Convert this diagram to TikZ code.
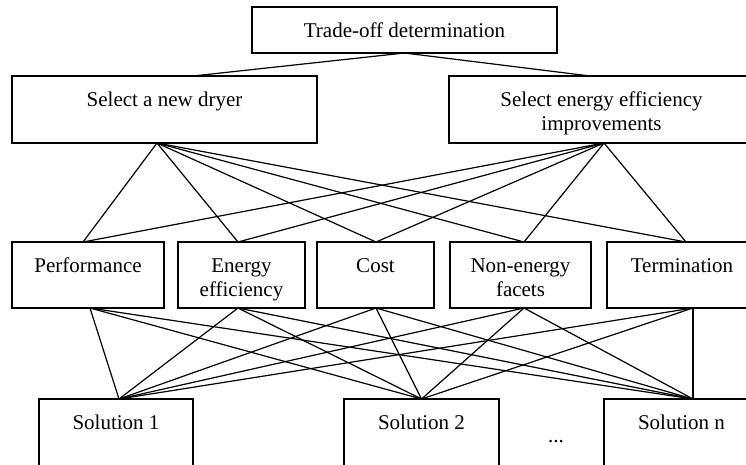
\documentclass[tikz,border=0pt]{standalone}
\usepackage{fontspec}
\setmainfont{Liberation Serif}
\newcommand{\bx}[3]{\parbox[c][#2][t]{#1}{\centering\vspace*{14pt}\strut#3}}
\newcommand{\bxc}[3]{\parbox[c][#2][c]{#1}{\centering #3}}
\begin{document}
\begin{tikzpicture}[x=1pt,y=-1pt,
  box/.style={draw,line width=1.2pt,inner sep=0pt,outer sep=0pt,font=\fontsize{21}{24}\selectfont},
  ln/.style={line width=1.2pt,line cap=round}]
\useasboundingbox (0,0) rectangle (746,464);
\clip (0,0) rectangle (746,464);
\node[box] (tb) at (404.5,30) {\bxc{305pt}{46pt}{Trade-off determination}};
\node[box] (ld) at (164.5,109.5) {\bx{305pt}{67pt}{Select a new dryer}};
\node[box] (rd) at (601.5,109.5) {\bx{305pt}{67pt}{Select energy efficiency\\improvements}};
\node[box] (perf) at (88,275) {\bx{152pt}{66pt}{Performance}};
\node[box] (eff) at (241.5,275) {\bx{127pt}{66pt}{Energy\\efficiency}};
\node[box] (cost) at (375.5,275) {\bx{117pt}{66pt}{Cost}};
\node[box] (non) at (520.5,275) {\bx{141pt}{66pt}{Non-energy\\facets}};
\node[box] (term) at (682,275) {\bx{150pt}{66pt}{Termination}};
\node[box] (s1) at (116,432.5) {\bx{154pt}{67pt}{Solution 1}};
\node[box] (s2) at (421.5,432.5) {\bx{155pt}{67pt}{Solution 2}};
\node[box] (sn) at (681.5,432.5) {\bx{155pt}{67pt}{Solution n}};
\node[font=\fontsize{21}{24}\selectfont,inner sep=0pt] (dots) at (556,442) {...};
\coordinate (ldB) at ([xshift=-7.5pt]ld.south);
\coordinate (rdB) at ([xshift=2.5pt]rd.south);
\coordinate (perfT) at ([xshift=-5pt]perf.north);
\coordinate (effT) at ([xshift=-3.5pt]eff.north);
\coordinate (costT) at ([xshift=0.5pt]cost.north);
\coordinate (nonT) at ([xshift=3.5pt]non.north);
\coordinate (termT) at ([xshift=4pt]term.north);
\coordinate (perfB) at ([xshift=2pt]perf.south);
\coordinate (effB) at ([xshift=-3.5pt]eff.south);
\coordinate (costB) at ([xshift=0.5pt]cost.south);
\coordinate (nonB) at ([xshift=3.5pt]non.south);
\coordinate (termB) at ([xshift=11pt]term.south);
\coordinate (s1T) at ([xshift=3pt]s1.north);
\coordinate (s2T) at ([xshift=0pt]s2.north);
\coordinate (snT) at ([xshift=11.5pt]sn.north);
\draw[ln] (tb.south) -- ([xshift=28.5pt]ld.north);
\draw[ln] (tb.south) -- ([xshift=-11.5pt]rd.north);
\foreach \u in {ldB,rdB}
  \foreach \m in {perfT,effT,costT,nonT,termT}
    \draw[ln] (\u) -- (\m);
\foreach \m in {perfB,effB,costB,nonB,termB}
  \foreach \s in {s1T,s2T,snT}
    \draw[ln] (\m) -- (\s);
\end{tikzpicture}
\end{document}
